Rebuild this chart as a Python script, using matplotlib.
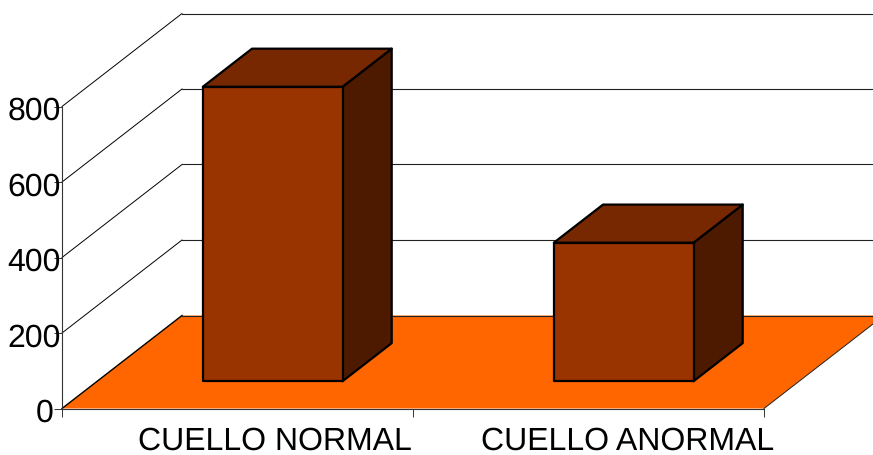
import matplotlib
matplotlib.use("Agg")
import matplotlib.pyplot as plt
from matplotlib.patches import Polygon
from matplotlib.transforms import ScaledTranslation

# Chart data
categories = ["CUELLO NORMAL", "CUELLO ANORMAL"]
values = [780, 367]
y_ticks = [0, 200, 400, 600, 800]

plt.rcParams["font.family"] = ["Liberation Sans", "DejaVu Sans"]
plt.rcParams["text.hinting"] = "no_hinting"
plt.rcParams["text.hinting_factor"] = 1

W, H = 873, 455
fig = plt.figure(figsize=(W / 100, H / 100), dpi=100)

# Axes span the front plane of the 3D box, in pixel-derived fractions
left, right, bottom, top = 62, 764, 408.5, 106.5
ax = fig.add_axes([left / W, 1 - bottom / H, (right - left) / W, (bottom - top) / H])
ax.set_xlim(0, 2)
ax.set_ylim(0, 800)
ax.patch.set_visible(False)

# Oblique projection: full depth shifts a point right and up
DX = 120 / ((right - left) / 2)
DY = 93 / ((bottom - top) / 800)


def project(x, y, depth):
    return (x + depth * DX, y + depth * DY)


def poly(points, **kw):
    ax.add_patch(Polygon(points, closed=True, clip_on=False, **kw))


# Floor
poly([project(0, 0, 0), project(2, 0, 0), project(2, 0, 1), project(0, 0, 1)],
     facecolor="#FF6600", edgecolor="none", zorder=1)
ax.plot(*zip(project(0, 0, 0), project(0, 0, 1)), color="black", lw=1.0, clip_on=False, zorder=1.5)
ax.plot(*zip(project(2, 0, 0), project(2, 0, 1)), color="#222222", lw=0.7, clip_on=False, zorder=1.5)

# Side-wall and back-wall grid lines
for t in y_ticks:
    if t > 0:
        ax.plot(*zip(project(0, t, 0), project(0, t, 1)), color="black", lw=0.7, clip_on=False, zorder=1.5)
    ax.plot(*zip(project(0, t, 1), project(2, t, 1)), color="#222222", lw=0.8, clip_on=False, zorder=1.5)

# Bars as three visible faces of a box
BAR_W = 0.398
D0, D1 = 0.293, 0.703
for i, v in enumerate(values):
    x0 = i + 0.5 - BAR_W / 2
    x1 = i + 0.5 + BAR_W / 2
    style = dict(edgecolor="black", linewidth=1.6, joinstyle="round", zorder=3)
    poly([project(x1, 0, D0), project(x1, 0, D1), project(x1, v, D1), project(x1, v, D0)],
         facecolor="#4D1A00", **style)
    poly([project(x0, v, D0), project(x1, v, D0), project(x1, v, D1), project(x0, v, D1)],
         facecolor="#772800", **style)
    poly([project(x0, 0, D0), project(x1, 0, D0), project(x1, v, D0), project(x0, v, D0)],
         facecolor="#993300", **style)

# Axes furniture
for side in ("top", "right"):
    ax.spines[side].set_visible(False)
for side in ("left", "bottom"):
    ax.spines[side].set_linewidth(0.8)
    ax.spines[side].set_color("#333333")
    ax.spines[side].set_zorder(2)

ax.set_yticks(y_ticks)
ax.set_yticklabels([str(t) for t in y_ticks], fontsize=23)
ax.tick_params(axis="y", length=5.5, width=0.7, color="#333333", pad=-1)

# Lower each value label slightly; the zero label sits further left
for t, lab in zip(y_ticks, ax.get_yticklabels()):
    shift_x = -2 if t == 0 else 5
    lab.set_transform(lab.get_transform() + ScaledTranslation(shift_x / 100, -2 / 100, fig.dpi_scale_trans))

ax.set_xticks([0, 1, 2])
ax.set_xticklabels([])
ax.tick_params(axis="x", which="major", length=5.5, width=0.7, color="#333333")

# Category names are centred under the bars, between the major ticks
ax.set_xticks([0.607, 1.612], minor=True)
ax.set_xticklabels(categories, minor=True, fontsize=23)
ax.tick_params(axis="x", which="minor", length=0, pad=13)

fig.savefig("out.png", dpi=100)
